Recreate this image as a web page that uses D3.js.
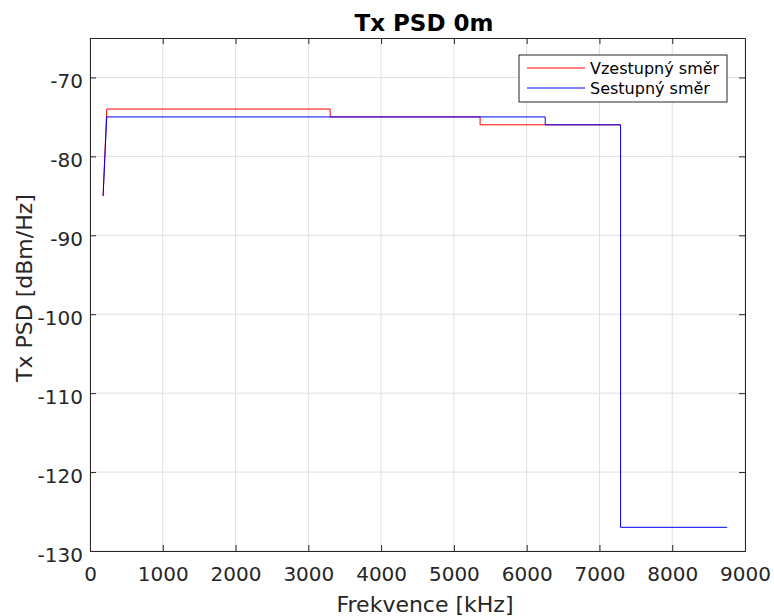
<!DOCTYPE html>
<html>
<head>
<meta charset="utf-8">
<script src="https://cdn.jsdelivr.net/npm/d3@7"></script>
<style>
  body { margin: 0; background: #fff; }
  text { font-family: "DejaVu Sans", sans-serif; }
</style>
</head>
<body>
<script>
// upstream (red) and downstream (blue) PSD masks
var upFreq = [180, 230, 3300, 3300, 5360, 5360, 7290];
var upPsd = [-85, -74, -74, -75, -75, -76, -76];
var downFreq = [180, 230, 6255, 6255, 7290, 7290, 8755];
var downPsd = [-85, -75, -75, -76, -76, -127, -127];
var xTicks = [0, 1000, 2000, 3000, 4000, 5000, 6000, 7000, 8000, 9000];
var yTicks = [-70, -80, -90, -100, -110, -120, -130];
var seriesNames = ["Vzestupný směr", "Sestupný směr"];

var width = 774, height = 616;
var margin = { top: 38, right: 29, bottom: 65, left: 90 };

var svg = d3.select('body').append('svg')
    .attr('width', width)
    .attr('height', height);

var x = d3.scaleLinear().domain([0, 9000]).range([margin.left, width - margin.right]);
var y = d3.scaleLinear().domain([-130, -65]).range([height - margin.bottom, margin.top]);

// grid
svg.append("g").selectAll("line").data(xTicks).enter().append("line")
    .attr("x1", d => x(d)).attr("x2", d => x(d))
    .attr("y1", y(-65)).attr("y2", y(-130))
    .attr("stroke", "#dfdfdf");
svg.append("g").selectAll("line").data(yTicks).enter().append("line")
    .attr("y1", d => y(d)).attr("y2", d => y(d))
    .attr("x1", x(0)).attr("x2", x(9000))
    .attr("stroke", "#dfdfdf");

var line = d3.line().x(d => x(d[0])).y(d => y(d[1]));

svg.append("path")
    .datum(upFreq.map((f, i) => [f, upPsd[i]]))
    .attr("d", line).attr("fill", "none").attr("stroke", "#ff0000").attr("stroke-width", 1);
svg.append("path")
    .datum(downFreq.map((f, i) => [f, downPsd[i]]))
    .attr("d", line).attr("fill", "none").attr("stroke", "#0000ff").attr("stroke-width", 1);

// axes (ticks inside, box all around)
var ax = "#262626";
var fmt = d => String(d);
svg.append("g")
    .attr("transform", `translate(0,${y(-130)})`)
    .call(d3.axisBottom(x).tickValues(xTicks).tickSize(-6).tickPadding(16).tickFormat(fmt))
    .call(g => g.select(".domain").attr("stroke", ax))
    .call(g => g.selectAll(".tick line").attr("stroke", ax))
    .call(g => g.selectAll("text").attr("font-size", 20).attr("fill", ax).attr("font-family", "DejaVu Sans"));
svg.append("g")
    .attr("transform", `translate(0,${y(-65)})`)
    .call(d3.axisTop(x).tickValues(xTicks).tickSize(-6).tickFormat(""))
    .call(g => g.select(".domain").attr("stroke", ax))
    .call(g => g.selectAll(".tick line").attr("stroke", ax));
svg.append("g")
    .attr("transform", `translate(${x(0)},0)`)
    .call(d3.axisLeft(y).tickValues(yTicks).tickSize(-6).tickPadding(7).tickFormat(fmt))
    .call(g => g.select(".domain").attr("stroke", ax))
    .call(g => g.selectAll(".tick line").attr("stroke", ax))
    .call(g => g.selectAll("text").attr("font-size", 20).attr("dy", "0.5em").attr("fill", ax).attr("font-family", "DejaVu Sans"));
svg.append("g")
    .attr("transform", `translate(${x(9000)},0)`)
    .call(d3.axisRight(y).tickValues(yTicks).tickSize(-6).tickFormat(""))
    .call(g => g.select(".domain").attr("stroke", ax))
    .call(g => g.selectAll(".tick line").attr("stroke", ax));

// title and labels
svg.append("text").attr("x", 424).attr("y", 31)
    .attr("text-anchor", "middle").attr("font-size", 23).attr("font-weight", "bold")
    .attr("fill", "#000").text("Tx PSD 0m");
svg.append("text").attr("x", 425).attr("y", 612)
    .attr("text-anchor", "middle").attr("font-size", 22).attr("fill", ax)
    .text("Frekvence [kHz]");
svg.append("text")
    .attr("transform", "translate(32,288) rotate(-90)")
    .attr("text-anchor", "middle").attr("font-size", 22).attr("fill", ax)
    .text("Tx PSD [dBm/Hz]");

// legend
var lg = svg.append("g").attr("transform", "translate(519,55)");
lg.append("rect").attr("width", 208).attr("height", 47)
    .attr("fill", "#fff").attr("stroke", ax).attr("stroke-width", 1);
var colors = ["#ff0000", "#0000ff"];
seriesNames.forEach((name, i) => {
    var yy = 13 + i * 20;
    lg.append("line").attr("x1", 8).attr("x2", 66).attr("y1", yy).attr("y2", yy)
        .attr("stroke", colors[i]);
    lg.append("text").attr("x", 71).attr("y", yy + 6)
        .attr("font-family", "Liberation Sans, Arial, sans-serif")
        .attr("font-size", 16).attr("fill", "#000").text(name);
});
</script>
</body>
</html>
